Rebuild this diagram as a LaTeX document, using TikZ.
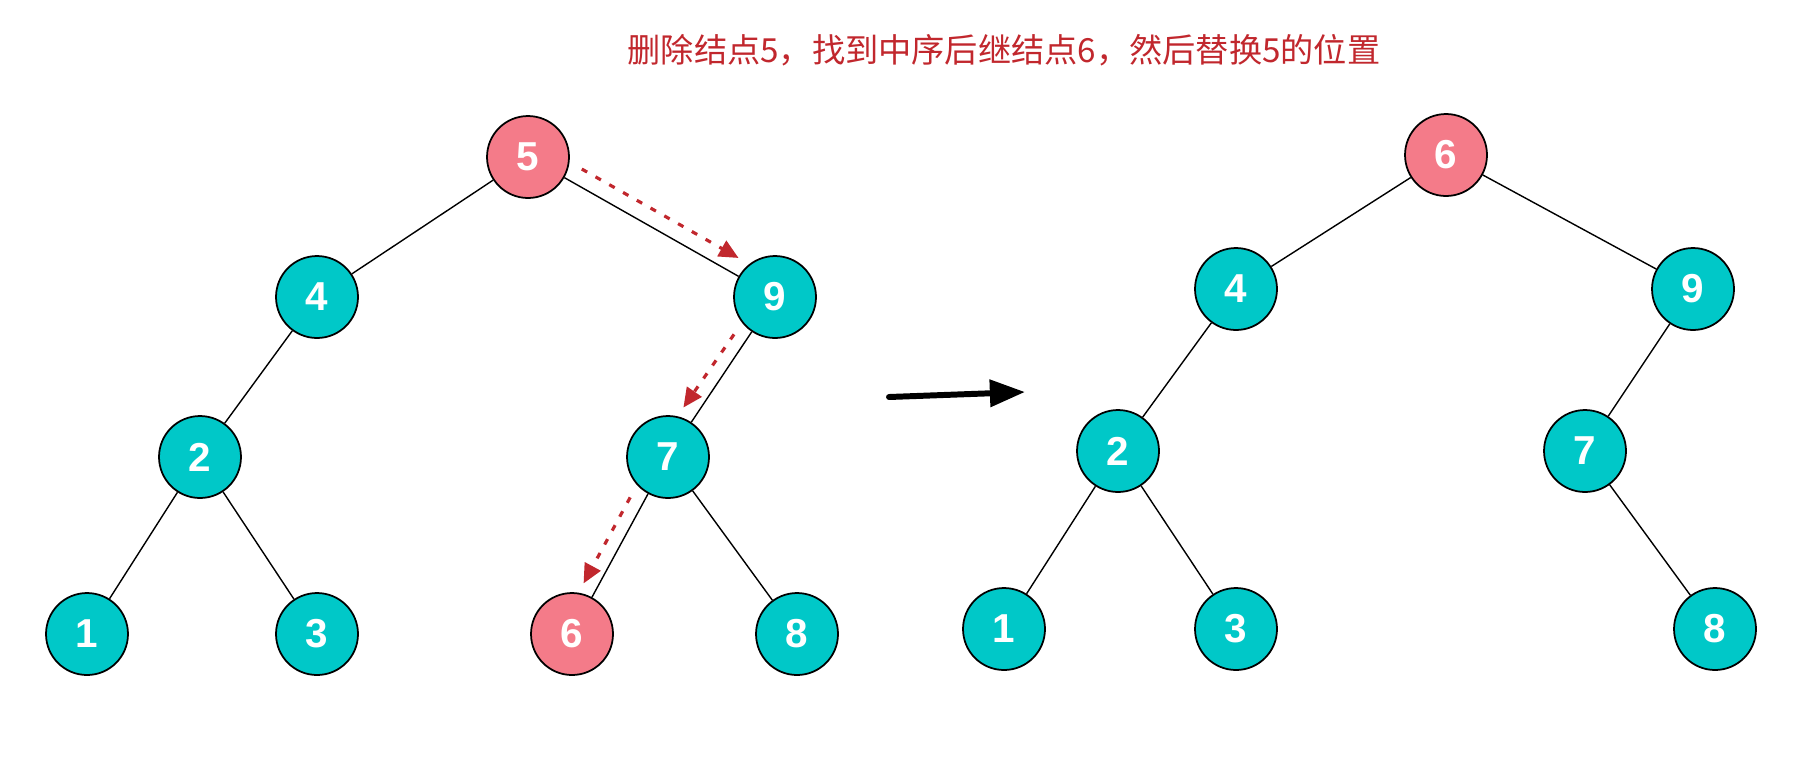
\documentclass[tikz,border=0pt]{standalone}
\usepackage{fontspec}
\setmainfont{Liberation Sans}
\newfontfamily\cjkfont{Noto Sans CJK SC}
\usetikzlibrary{arrows.meta}
\definecolor{nodepink}{HTML}{F47B89}
\definecolor{nodeteal}{HTML}{00C8C8}
\definecolor{markred}{HTML}{C1272D}
\tikzstyle{keynode} = [circle, draw=black, line width=1pt,
fill=nodeteal, minimum size=1.64cm, inner sep=0pt,
text=white, font=\fontsize{23}{23}\selectfont\bfseries]
\tikzstyle{hotnode} = [keynode, fill=nodepink]
\tikzstyle{edge} = [line width=0.8pt]
\tikzstyle{walk} = [draw=markred, line width=1.8pt,
dash pattern=on 3.5pt off 5.5pt, shorten <=8pt,
-{Triangle[length=11pt,width=10pt,fill=markred]}]
\tikzstyle{move} = [line width=3.4pt, line cap=round,
-{Triangle[length=20pt,width=15pt]}]

\begin{document}
\begin{tikzpicture}[x=0.02cm, y=-0.02cm]
\useasboundingbox (0,0) rectangle (1814,762);

% Caption
\node[text=markred, font=\cjkfont\fontsize{18.9}{22}\selectfont] (caption) at (1004,50)
{删除结点5，找到中序后继结点6，然后替换5的位置};

% Nodes (before)
\node[hotnode] (L5) at (528,157) {5};
\node[keynode] (L4) at (317,297) {4};
\node[keynode] (L9) at (775,297) {9};
\node[keynode] (L2) at (200,457) {2};
\node[keynode] (L7) at (668,457) {7};
\node[keynode] (L1) at (87,634) {1};
\node[keynode] (L3) at (317,634) {3};
\node[hotnode] (L6) at (572,634) {6};
\node[keynode] (L8) at (797,634) {8};

% Nodes (after)
\node[hotnode] (R6) at (1446,155) {6};
\node[keynode] (R4) at (1236,289) {4};
\node[keynode] (R9) at (1693,289) {9};
\node[keynode] (R2) at (1118,451) {2};
\node[keynode] (R7) at (1585,451) {7};
\node[keynode] (R1) at (1004,629) {1};
\node[keynode] (R3) at (1236,629) {3};
\node[keynode] (R8) at (1715,629) {8};

% Edges
\draw[edge] (L5) -- (L4);
\draw[edge] (L5) -- (L9);
\draw[edge] (L4) -- (L2);
\draw[edge] (L2) -- (L1);
\draw[edge] (L2) -- (L3);
\draw[edge] (L9) -- (L7);
\draw[edge] (L7) -- (L6);
\draw[edge] (L7) -- (L8);
\draw[edge] (R6) -- (R4);
\draw[edge] (R6) -- (R9);
\draw[edge] (R4) -- (R2);
\draw[edge] (R2) -- (R1);
\draw[edge] (R2) -- (R3);
\draw[edge] (R9) -- (R7);
\draw[edge] (R7) -- (R8);

% Arrows
\draw[walk, shorten >=7pt] (L5.-7) -- (L9.128);
\draw[walk, shorten >=6pt] (L9.218) -- (L7.77);
\draw[walk, shorten >=6pt] (L7.222) -- (L6.81);
\coordinate (movefrom) at (889,397);
\coordinate (moveto) at (1025,392);
\draw[move] (movefrom) -- (moveto);

\end{tikzpicture}
\end{document}
